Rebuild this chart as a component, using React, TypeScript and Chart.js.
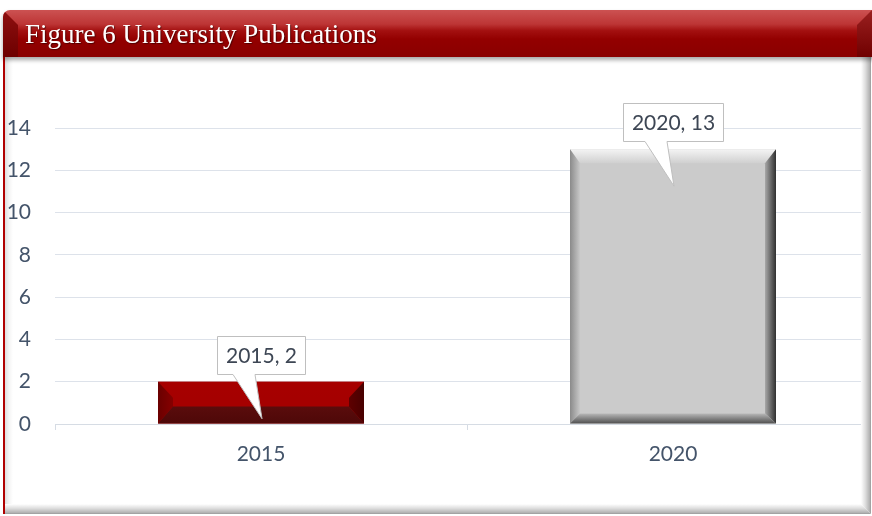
import React, { useEffect, useRef } from "react";
import { Chart, registerables } from "chart.js";

Chart.register(...registerables);

// ---- data ----
const categories: string[] = ["2015", "2020"];
const publications: number[] = [2, 13];
const yTickValues: number[] = [0, 2, 4, 6, 8, 10, 12, 14];
const chartTitle = "Figure 6 University Publications";

// ---- styles ----
const barFaces = ["#a50000", "#cbcbcb"];
const bevels = [
  { l: 15, r: 15, t: 16, b: 17, top: ["#a70000", "#a50000"], left: ["#6a0000", "#860000"], right: ["#480000", "#5e0000"], bottom: ["#4e0808", "#5a0c0c"] },
  { l: 10, r: 11, t: 14, b: 10, top: ["#f4f4f4", "#d0d0d0"], left: ["#8a8a8a", "#c8c8c8"], right: ["#303030", "#a8a8a8"], bottom: ["#505050", "#b8b8b8"] },
];
const FONT = "Lato, 'Open Sans', sans-serif";
const TEXT = "#44546a";

const CANVAS_W = 900;
const CANVAS_H = 444;

function poly(ctx: CanvasRenderingContext2D, pts: number[][], fill: CanvasGradient) {
  ctx.beginPath();
  ctx.moveTo(pts[0][0], pts[0][1]);
  for (let i = 1; i < pts.length; i++) ctx.lineTo(pts[i][0], pts[i][1]);
  ctx.closePath();
  ctx.fillStyle = fill;
  ctx.fill();
}

const bevelPlugin = {
  id: "bevel",
  afterDatasetsDraw(chart: any) {
    const ctx: CanvasRenderingContext2D = chart.ctx;
    const meta = chart.getDatasetMeta(0);
    meta.data.forEach((bar: any, i: number) => {
      const p = bar.getProps(["x", "y", "base", "width"], true);
      const L = p.x - p.width / 2;
      const R = p.x + p.width / 2;
      const T = Math.min(p.y, p.base);
      const B = Math.max(p.y, p.base);
      const s = bevels[i % bevels.length];
      ctx.save();
      let g = ctx.createLinearGradient(0, T, 0, T + s.t);
      g.addColorStop(0, s.top[0]); g.addColorStop(1, s.top[1]);
      poly(ctx, [[L, T], [R, T], [R - s.r, T + s.t], [L + s.l, T + s.t]], g);
      g = ctx.createLinearGradient(L, 0, L + s.l, 0);
      g.addColorStop(0, s.left[0]); g.addColorStop(1, s.left[1]);
      poly(ctx, [[L, T], [L + s.l, T + s.t], [L + s.l, B - s.b], [L, B]], g);
      g = ctx.createLinearGradient(R, 0, R - s.r, 0);
      g.addColorStop(0, s.right[0]); g.addColorStop(1, s.right[1]);
      poly(ctx, [[R, T], [R, B], [R - s.r, B - s.b], [R - s.r, T + s.t]], g);
      g = ctx.createLinearGradient(0, B, 0, B - s.b);
      g.addColorStop(0, s.bottom[0]); g.addColorStop(1, s.bottom[1]);
      poly(ctx, [[L, B], [L + s.l, B - s.b], [R - s.r, B - s.b], [R, B]], g);
      ctx.restore();
    });
  },
};

const calloutPlugin = {
  id: "callout",
  afterDraw(chart: any) {
    const ctx: CanvasRenderingContext2D = chart.ctx;
    const meta = chart.getDatasetMeta(0);
    ctx.save();
    ctx.font = `21px ${FONT}`;
    meta.data.forEach((bar: any, i: number) => {
      const p = bar.getProps(["x", "y"], true);
      const text = `${categories[i]}, ${publications[i]}`;
      const tw = ctx.measureText(text).width;
      const w = Math.round(tw + 17);
      const h = 38;
      const cx = p.x;
      const bottom = Math.round(p.y - 8) + 0.5;
      const top = bottom - h;
      const left = Math.round(cx - w / 2) + 0.5;
      const right = left + w;
      ctx.beginPath();
      ctx.moveTo(left, top);
      ctx.lineTo(right, top);
      ctx.lineTo(right, bottom);
      ctx.lineTo(cx - 6, bottom);
      ctx.lineTo(cx + 1, p.y + 37);
      ctx.lineTo(cx - 28, bottom);
      ctx.lineTo(left, bottom);
      ctx.closePath();
      ctx.fillStyle = "#ffffff";
      ctx.fill();
      ctx.strokeStyle = "#bfbfbf";
      ctx.lineWidth = 1;
      ctx.stroke();
      ctx.fillStyle = "#3d4654";
      ctx.textAlign = "center";
      ctx.textBaseline = "middle";
      ctx.fillText(text, (left + right) / 2, (top + bottom) / 2 + 1);
    });
    ctx.restore();
  },
};

export default function App() {
  const ref = useRef<HTMLCanvasElement | null>(null);

  useEffect(() => {
    document.body.style.margin = "0";
    if (!ref.current) return;
    const chart = new Chart(ref.current, {
      type: "bar",
      data: {
        labels: categories,
        datasets: [
          {
            data: publications,
            backgroundColor: barFaces,
            borderWidth: 0,
            categoryPercentage: 1,
            barPercentage: 0.5,
          },
        ],
      },
      options: {
        responsive: false,
        animation: false,
        devicePixelRatio: window.devicePixelRatio || 1,
        layout: { padding: { left: 0, right: CANVAS_W - 879, top: 66, bottom: 0 } },
        plugins: { legend: { display: false }, tooltip: { enabled: false }, title: { display: false } },
        scales: {
          x: {
            offset: true,
            grid: { display: true, offset: true, drawOnChartArea: false, drawTicks: true, tickLength: 6, color: "#d6dce4" },
            border: { display: true, color: "#d6dce4", width: 1 },
            ticks: { color: TEXT, font: { family: FONT, size: 21 }, padding: 12 },
            afterFit: (scale: any) => { scale.height = CANVAS_H - 362; },
          },
          y: {
            min: 0,
            max: yTickValues[yTickValues.length - 1],
            afterBuildTicks: (scale: any) => { scale.ticks = yTickValues.map((v) => ({ value: v })); },
            grid: { color: "#dde2ea", drawTicks: false },
            border: { display: false },
            ticks: { color: TEXT, font: { family: FONT, size: 21 }, padding: 24 },
            afterFit: (scale: any) => { scale.width = 55; },
          },
        },
      },
      plugins: [bevelPlugin, calloutPlugin],
    });
    return () => chart.destroy();
  }, []);

  return (
    <div style={{ position: "absolute", left: 0, top: 0, width: 872, height: 516, overflow: "hidden", background: "#ffffff" }}>
      {/* frame */}
      <div style={{ position: "absolute", left: 3, top: 50, width: 869, height: 464, background: "#ffffff", borderLeft: "2px solid #b00000", boxSizing: "border-box" }} />
      <div style={{ position: "absolute", left: 5, top: 57, width: 8, height: 456, background: "linear-gradient(to right, #dedede, #f4f4f4 50%, rgba(255,255,255,0))" }} />
      <div style={{ position: "absolute", left: 0, top: 62, width: 862, height: CANVAS_H, overflow: "hidden" }}>
        <canvas ref={ref} width={CANVAS_W} height={CANVAS_H} style={{ width: CANVAS_W, height: CANVAS_H, display: "block" }} />
      </div>
      <div style={{ position: "absolute", left: 861, top: 57, width: 10, height: 457, background: "linear-gradient(to right, #ffffff, #dcdcdc 45%, #b4b4b4 85%, #9a9a9a)", clipPath: "polygon(0 0, 100% 0, 100% 100%, 0 calc(100% - 10px))" }} />
      <div style={{ position: "absolute", left: 5, top: 504, width: 866, height: 10, background: "linear-gradient(to bottom, #ffffff, #dcdcdc 45%, #b4b4b4 85%, #9a9a9a)", clipPath: "polygon(0 0, calc(100% - 10px) 0, 100% 100%, 0 100%)" }} />
      {/* title bar */}
      <div
        style={{
          position: "absolute", left: 3, top: 10, width: 900, height: 47,
          borderTopLeftRadius: 7, overflow: "hidden",
          background: "linear-gradient(to bottom, #cc5252 0%, #bd3535 30%, #a31010 44%, #930000 62%, #8a0000 100%)",
          boxShadow: "0 3px 4px rgba(0,0,0,0.35)",
        }}
      >
        <div style={{ position: "absolute", left: 0, top: 0, width: 15, height: 47, background: "linear-gradient(to bottom, #8e1010, #6e0000)", clipPath: "polygon(0 0, 15px 15px, 15px 100%, 0 100%)" }} />
        <div style={{ position: "absolute", left: 854, top: 0, width: 15, height: 47, background: "linear-gradient(to bottom, #9a2020, #700000)", clipPath: "polygon(0 15px, 15px 0, 15px 100%, 0 100%)" }} />
        <div
          style={{
            position: "absolute", left: 22, top: 9, color: "#ffffff",
            fontFamily: "'Liberation Serif', 'DejaVu Serif', serif", fontSize: 27, lineHeight: "30px",
            whiteSpace: "nowrap", textShadow: "1px 1px 1px rgba(0,0,0,0.45)",
          }}
        >
          {chartTitle}
        </div>
      </div>
    </div>
  );
}
